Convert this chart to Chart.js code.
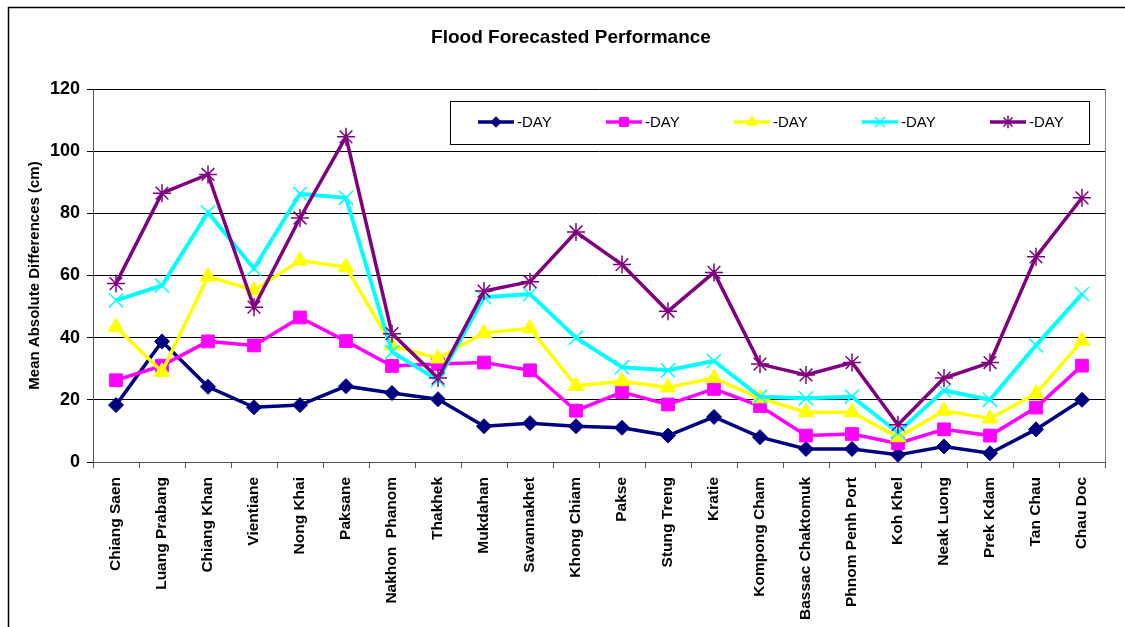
<!DOCTYPE html>
<html>
<head>
<meta charset="utf-8">
<script src="https://cdn.jsdelivr.net/npm/chart.js@4.4.1/dist/chart.umd.min.js"></script>
<style>
  html, body { margin: 0; padding: 0; background: #fff; }
  #wrap { width: 1125px; height: 627px; }
</style>
</head>
<body>
<div id="wrap"><canvas id="floodChart" width="1125" height="627"></canvas></div>
<script>
const stations = [
  "Chiang Saen", "Luang Prabang", "Chiang Khan", "Vientiane", "Nong Khai", "Paksane",
  "Nakhon  Phanom", "Thakhek", "Mukdahan", "Savannakhet", "Khong Chiam", "Pakse",
  "Stung Treng", "Kratie", "Kompong Cham", "Bassac Chaktomuk", "Phnom Penh Port",
  "Koh Khel", "Neak Luong", "Prek Kdam", "Tan Chau", "Chau Doc"
];
const seriesNames = ["-DAY", "-DAY", "-DAY", "-DAY", "-DAY"];
const day1 = [18.3, 38.8, 24.2, 17.6, 18.3, 24.4, 22.2, 20.2, 11.5, 12.5, 11.5, 11, 8.5, 14.5, 8, 4.2, 4.2, 2.3, 5, 2.8, 10.5, 20];
const day2 = [26.3, 31, 38.8, 37.5, 46.5, 38.9, 30.9, 31.5, 32, 29.5, 16.5, 22.5, 18.5, 23.5, 18, 8.5, 9, 6, 10.5, 8.5, 17.5, 31];
const day3 = [43.4, 29, 59.7, 55.2, 64.8, 62.7, 37.5, 33.3, 41.5, 43, 24.5, 26, 24, 27, 20.5, 16, 16, 8, 16.5, 14, 22, 39];
const day4 = [52, 56.8, 80.3, 62.2, 86.3, 85, 35.4, 26.3, 53, 54, 40, 30.5, 29.5, 32.5, 21, 20.5, 21, 9.5, 23, 20, 37.5, 54];
const day5 = [57.4, 86.5, 92.5, 49.8, 78.5, 104.6, 41.3, 27, 55, 58, 74, 63.5, 48.5, 61, 31.5, 28, 32, 12, 27, 32, 66, 85];
const yTicks = [0, 20, 40, 60, 80, 100, 120];

const fontFamily = "'Liberation Sans', Arial, sans-serif";
const lineColors = ["#000080", "#FF00FF", "#FFFF00", "#00FFFF", "#800080"];
const markers = ["rectRot", "rect", "triangle", "crossRot", "star"];
const markerSizes = [7.5, 9, 9, 10, 9];
const lineWidths = [3.5, 3.5, 3.5, 4, 3.5];
const allSeries = [day1, day2, day3, day4, day5];

const datasets = allSeries.map((values, i) => ({
  label: seriesNames[i],
  data: values,
  borderColor: lineColors[i],
  backgroundColor: lineColors[i],
  borderWidth: lineWidths[i],
  pointStyle: markers[i],
  pointRadius: markerSizes[i],
  pointBorderColor: lineColors[i],
  pointBackgroundColor: lineColors[i],
  pointBorderWidth: i >= 3 ? 1.5 : 1,
  tension: 0,
  order: 5 - i, // later series on top, like the original
}));

// frame, title, plot border and the boxed legend
const decorations = {
  id: "decorations",
  beforeDraw(chart) {
    const ctx = chart.ctx;
    ctx.save();
    ctx.fillStyle = "#fff";
    ctx.fillRect(0, 0, chart.width, chart.height);
    ctx.strokeStyle = "#000";
    ctx.lineWidth = 1.5;
    ctx.beginPath();
    ctx.moveTo(8.5, chart.height);
    ctx.lineTo(8.5, 7.5);
    ctx.lineTo(chart.width, 7.5);
    ctx.stroke();

    ctx.fillStyle = "#000";
    ctx.font = "bold 19px " + fontFamily;
    ctx.textAlign = "center";
    ctx.textBaseline = "middle";
    ctx.fillText("Flood Forecasted Performance", 571, 38);
    ctx.restore();
  },
  afterDraw(chart) {
    const ctx = chart.ctx;
    const area = chart.chartArea;
    ctx.save();
    ctx.strokeStyle = "#808080";
    ctx.lineWidth = 1;
    ctx.beginPath();
    ctx.moveTo(Math.round(area.right) + 0.5, area.top);
    ctx.lineTo(Math.round(area.right) + 0.5, area.bottom);
    ctx.stroke();

    // legend box
    ctx.fillStyle = "#fff";
    ctx.fillRect(450, 101, 639, 43);
    ctx.strokeStyle = "#000";
    ctx.lineWidth = 1;
    ctx.strokeRect(450.5, 101.5, 639, 43);
    ctx.font = "15px " + fontFamily;
    ctx.textBaseline = "middle";
    ctx.textAlign = "left";
    chart.data.datasets.forEach((ds, i) => {
      const x0 = 478 + i * 128;
      const y = 122;
      ctx.strokeStyle = ds.borderColor;
      ctx.lineWidth = 3.5;
      ctx.beginPath();
      ctx.moveTo(x0, y);
      ctx.lineTo(x0 + 36, y);
      ctx.stroke();
      ctx.fillStyle = ds.backgroundColor;
      ctx.strokeStyle = ds.borderColor;
      ctx.lineWidth = ds.pointBorderWidth;
      Chart.helpers.drawPoint(ctx, {
        pointStyle: ds.pointStyle,
        radius: ds.pointRadius * 0.7,
        borderWidth: ds.pointBorderWidth,
        rotation: 0,
      }, x0 + 18, y);
      ctx.fillStyle = "#000";
      ctx.fillText(ds.label, x0 + 39, y + 1);
    });
    ctx.restore();
  },
};

const ctx = document.getElementById("floodChart").getContext("2d");
new Chart(ctx, {
  type: "line",
  data: { labels: stations, datasets: datasets },
  options: {
    responsive: false,
    animation: false,
    devicePixelRatio: 1,
    layout: { padding: { top: 89, left: 0, right: 20, bottom: 0 } },
    plugins: {
      legend: { display: false },
      title: { display: false },
      tooltip: { enabled: false },
    },
    scales: {
      x: {
        offset: true,
        afterFit: (scale) => { scale.height = 165; },
        grid: {
          offset: true,
          drawOnChartArea: false,
          drawTicks: true,
          tickLength: 6,
          color: "#555",
        },
        border: { color: "#555", width: 1 },
        ticks: {
          autoSkip: false,
          minRotation: 90,
          maxRotation: 90,
          padding: 9,
          color: "#000",
          font: { family: fontFamily, size: 15.5, weight: "bold" },
        },
      },
      y: {
        min: yTicks[0],
        max: yTicks[yTicks.length - 1],
        afterFit: (scale) => { scale.width = 93; },
        afterBuildTicks: (scale) => { scale.ticks = yTicks.map((v) => ({ value: v })); },
        grid: { color: "#000", lineWidth: 1, tickLength: 6 },
        border: { color: "#555", width: 1 },
        ticks: {
          padding: 7,
          color: "#000",
          font: { family: fontFamily, size: 18, weight: "bold" },
        },
        title: {
          display: true,
          text: "Mean Absolute Differences (cm)",
          color: "#000",
          padding: { top: 26, bottom: 0 },
          font: { family: fontFamily, size: 15, weight: "bold" },
        },
      },
    },
  },
  plugins: [decorations],
});
</script>
</body>
</html>
